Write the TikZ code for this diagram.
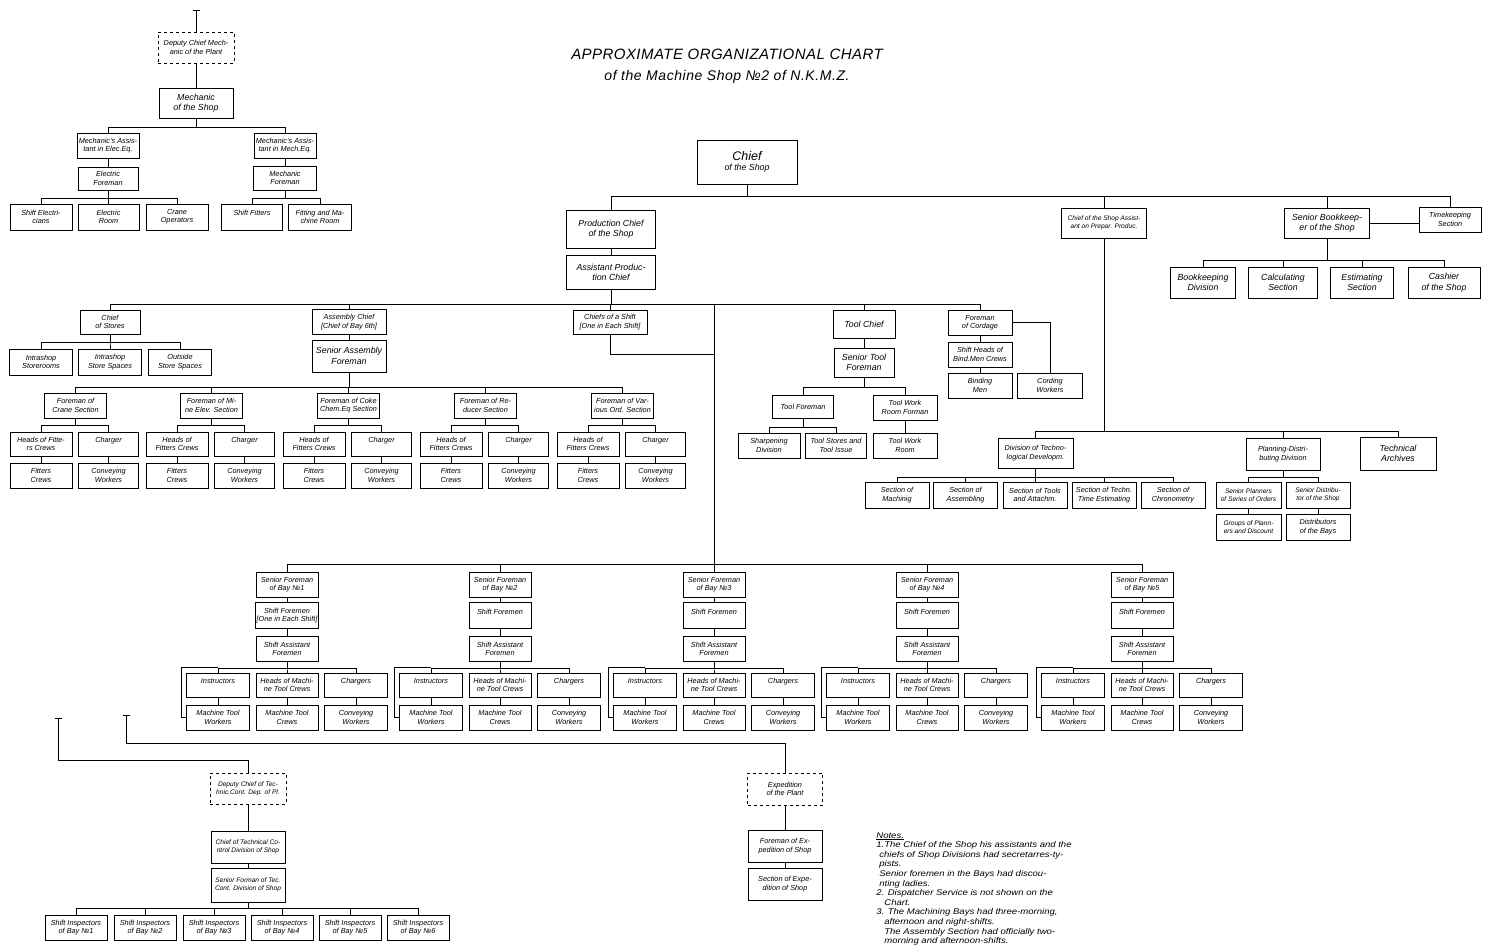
\documentclass[tikz,border=0pt]{standalone}
\usepackage{fontspec}
\setmainfont{Liberation Sans}
\usetikzlibrary{arrows.meta, positioning}

\tikzset{
  box/.style={draw, align=center, inner sep=1pt, font=\itshape\fontsize{7.3}{8.3}\selectfont, minimum width=62pt, minimum height=25pt},
  dbox/.style={box, dashed},
  sz/.style 2 args={minimum width=#1pt, minimum height=#2pt},
  midtxt/.style={font=\itshape\fontsize{8.8}{10.5}\selectfont},
  tinytxt/.style={font=\itshape\fontsize{6.6}{7.6}\selectfont},
  tbar/.style={{Bar[width=7pt]}-},
}

\begin{document}
\begin{tikzpicture}[x=1pt, y=-1pt, line width=0.7pt]
\useasboundingbox (0,0) rectangle (1494,951);

% title
\node (ttl) at (727,54) {\itshape\fontsize{15}{17}\selectfont\addfontfeature{LetterSpace=3}APPROXIMATE ORGANIZATIONAL CHART};
\node (sub) at (727,77) {\itshape\fontsize{14}{16}\selectfont\addfontfeature{LetterSpace=4}of the Machine Shop №2 of N.K.M.Z.};

% mechanic of the shop
\coordinate (tq0) at (196,10);
\node[dbox, sz={76}{31}] (dcm) at (196,47.5) {Deputy Chief Mech-\\anic of the Plant};
\node[box, midtxt, sz={74}{30}] (msh) at (196,103) {Mechanic\\of the Shop};
\node[box] (mae) at (108,145.5) {Mechanic's Assis-\\tant in Elec.Eq.};
\node[box] (mam) at (285,145.5) {Mechanic's Assis-\\tant in Mech.Eq.};
\node[box, sz={60}{23}] (efm) at (108,178.5) {Electric\\Foreman};
\node[box, sz={63}{24}] (mfm) at (285,178) {Mechanic\\Foreman};
\node[box, sz={62}{26}] (sel) at (41,217) {Shift Electri-\\cians};
\node[box, sz={61}{26}] (erm) at (108.5,217) {Electric\\Room};
\node[box, sz={62}{26}] (cop) at (177,217) {Crane\\Operators};
\node[box, sz={61}{26}] (sft) at (252,217) {Shift Fitters\\ };
\node[box, sz={63}{26}] (fmr) at (320,217) {Fitting and Ma-\\chine Room};
\draw[tbar] (tq0) -- (dcm);
\draw (dcm) -- (msh);
\foreach \k in {mae,mam} \draw (msh.south) -- ++(0,9) -| (\k.north);
\draw (mae) -- (efm);
\draw (mam) -- (mfm);
\foreach \k in {sel,erm,cop} \draw (efm.south) -- ++(0,8) -| (\k.north);
\foreach \k in {sft,fmr} \draw (mfm.south) -- ++(0,8) -| (\k.north);

% chief and first level
\node[box, sz={100}{44}, font=\itshape\fontsize{8.8}{10}\selectfont] (chief) at (747,162) {{\fontsize{12.5}{14}\selectfont Chief}\\of the Shop};
\node[box, midtxt, sz={89}{38}] (pch) at (611,229) {Production Chief\\of the Shop};
\node[box, midtxt, sz={89}{34}] (apc) at (611,272.5) {Assistant Produc-\\tion Chief};
\node[box, tinytxt, sz={85}{30}] (csa) at (1104,223) {Chief of the Shop Assist-\\ant on Prepar. Produc.};
\node[box, midtxt, sz={85}{30}] (sbk) at (1327,223) {Senior Bookkeep-\\er of the Shop};
\node[box] (tks) at (1450,219.5) {Timekeeping\\Section};
\node[box, midtxt, sz={65}{31}] (bkd) at (1203,282.5) {Bookkeeping\\Division};
\node[box, midtxt, sz={69}{31}] (cls) at (1283,282.5) {Calculating\\Section};
\node[box, midtxt, sz={63}{31}] (ess) at (1362,282.5) {Estimating\\Section};
\node[box, midtxt, sz={72}{31}] (cas) at (1444,282.5) {Cashier\\of the Shop};
\foreach \k in {pch,csa,sbk,tks} \draw (chief.south) -- ++(0,12) -| (\k.north);
\draw (pch) -- (apc);
\draw (sbk.east) -- (sbk.east -| tks.west);
\foreach \k in {bkd,cls,ess,cas} \draw (sbk.south) -- ++(0,22) -| (\k.north);

% production line
\coordinate (trk) at (714,564);
\coordinate (cshj) at (714,354);
\node[box, sz={60}{24}] (cst) at (110,322) {Chief\\of Stores};
\node[box, sz={74}{25}] (ach) at (349,322) {Assembly Chief\\{[Chief of Bay 6th]}};
\node[box, sz={74}{24}] (csh) at (610,322) {Chiefs of a Shift\\{[One in Each Shift]}};
\node[box, midtxt, sz={62}{28}] (tch) at (864,324) {Tool Chief};
\node[box, sz={64}{25}] (fco) at (980,322.5) {Foreman\\of Cordage};
\foreach \k in {cst,ach,csh,tch,fco} \draw (apc.south) -- ++(0,14) -| (\k.north);
\draw (apc.south) -- ++(0,14) -| (trk);
\draw (csh.south) |- (cshj);

% stores
\node[box, sz={63}{26}] (isr) at (41,362) {Intrashop\\Storerooms};
\node[box, sz={63}{26}] (iss) at (110,362) {Intrashop\\Store Spaces};
\node[box, sz={63}{26}] (oss) at (180,362) {Outside\\Store Spaces};
\foreach \k in {isr,iss,oss} \draw (cst.south) -- ++(0,8) -| (\k.north);

% assembly
\node[box, midtxt, sz={74}{32}] (sasf) at (349,356) {Senior Assembly\\Foreman};
\draw (ach) -- (sasf);
\foreach \n/\c/\t in {1/41/{Foreman of\\Crane Section}, 2/177/{Foreman of Mi-\\ne Elev. Section}, 3/314/{Foreman of Coke\\Chem.Eq Section}, 4/451/{Foreman of Re-\\ducer Section}, 5/588/{Foreman of Var-\\ious Ord. Section}}{
  \node[box] (fr\n) at (\c+34.5,405.5) {\t};
  \node[box, sz={62}{24}] (hfc\n) at (\c,444) {\ifnum\n=1 Heads of Fitte-\\rs Crews\else Heads of\\Fitters Crews\fi};
  \node[box, sz={60}{24}] (chr\n) at (\c+67.5,444) {Charger\\ };
  \node[box] (fcr\n) at (\c,475.5) {Fitters\\Crews};
  \node[box, sz={60}{25}] (cnw\n) at (\c+67.5,475.5) {Conveying\\Workers};
  \draw (sasf.south) -- ++(0,15) -| (fr\n.north);
  \foreach \k in {hfc,chr} \draw (fr\n.south) -- ++(0,7) -| (\k\n.north);
  \draw (hfc\n) -- (fcr\n);
  \draw (chr\n) -- (cnw\n);
}

% tools
\node[box, midtxt, sz={60}{29}] (stf) at (864,362.5) {Senior Tool\\Foreman};
\node[box, sz={61}{23}] (tfm) at (803,406.5) {Tool Foreman};
\node[box, sz={64}{25}] (twf) at (905,407.5) {Tool Work\\Room Forman};
\node[box] (shd) at (769,445.5) {Sharpening\\Division};
\node[box, sz={61}{25}] (tsi) at (836,445.5) {Tool Stores and\\Tool Issue};
\node[box, sz={64}{25}] (twr) at (905,445.5) {Tool Work\\Room};
\draw (tch) -- (stf);
\foreach \k in {tfm,twf} \draw (stf.south) -- ++(0,10) -| (\k.north);
\foreach \k in {shd,tsi} \draw (tfm.south) -- ++(0,9) -| (\k.north);
\draw (twf) -- (twr);

% cordage
\node[box, sz={64}{25}] (shb) at (980,354.5) {Shift Heads of\\Bind.Men Crews};
\node[box, sz={64}{25}] (bmn) at (980,385.5) {Binding\\Men};
\node[box, sz={65}{25}] (cwk) at (1050,385.5) {Cording\\Workers};
\draw (fco) -- (shb);
\draw (shb) -- (bmn);
\draw (fco.east) -| (cwk.north);

% preparation of production
\node[box, sz={75}{30}] (dtd) at (1035.5,453) {Division of Techno-\\logical Developm.};
\node[box, sz={74}{32}] (pdd) at (1283,454) {Planning-Distri-\\buting Division};
\node[box, midtxt, sz={76}{33}] (tar) at (1398,453.5) {Technical\\Archives};
\foreach \k in {dtd,pdd,tar} \draw (csa.south) -- ++(0,193) -| (\k.north);
\foreach \n/\c/\t in {smc/897/{Section of\\Machinig}, sas/965.5/{Section of\\Assembling}, sta/1035/{Section of Tools\\and Attachm.}, stt/1104/{Section of Techn.\\Time Estimating}, sch/1173/{Section of\\Chronometry}}{
  \node[box, sz={64}{26}] (\n) at (\c,495) {\t};
  \draw (dtd.south) -- ++(0,9) -| (\n.north);
}
\node[box, tinytxt, sz={65}{26}] (spo) at (1248.5,495) {Senior Planners\\of Series of Orders};
\node[box, tinytxt, sz={64}{26}] (sds) at (1318,495) {Senior Distribu-\\tor of the Shop};
\node[box, tinytxt, sz={65}{26}] (gpd) at (1248.5,527) {Groups of Plann-\\ers and Discount};
\node[box, sz={64}{26}] (dby) at (1318,527) {Distributors\\of the Bays};
\foreach \k in {spo,sds} \draw (pdd.south) -- ++(0,7) -| (\k.north);
\draw (spo) -- (gpd);
\draw (sds) -- (dby);

% bays
\foreach \n/\c in {1/287,2/500,3/714,4/927,5/1142}{
  \node[box] (sfb\n) at (\c,584.5) {Senior Foreman\\of Bay №\n};
  \node[box, sz={62}{26}] (sfm\n) [below=5pt of sfb\n] {Shift Foremen\\\ifnum\n=1 {[One in Each Shift]}\fi};
  \node[box] (saf\n) [below=7pt of sfm\n] {Shift Assistant\\Foremen};
  \node[box, sz={63}{24}] (itr\n) at (\c-69,685) {Instructors\\ };
  \node[box, sz={62}{24}] (hmc\n) at (\c,685) {Heads of Machi-\\ne Tool Crews};
  \node[box, sz={63}{24}] (chg\n) at (\c+69,685) {Chargers\\ };
  \node[box, sz={63}{25}] (mtw\n) at (\c-69,717.5) {Machine Tool\\Workers};
  \node[box] (mtc\n) at (\c,717.5) {Machine Tool\\Crews};
  \node[box, sz={63}{25}] (cvw\n) at (\c+69,717.5) {Conveying\\Workers};
  \coordinate (brk\n) at (\c-106,667);
  \draw (trk) -| (sfb\n.north);
  \draw (sfb\n) -- (sfm\n);
  \draw (sfm\n) -- (saf\n);
  \foreach \k in {itr,hmc,chg} \draw (saf\n.south) -- ++(0,7) -| (\k\n.north);
  \draw (brk\n) -- (itr\n.north |- brk\n);
  \draw (brk\n) |- (mtw\n.west);
  \draw (itr\n) -- (mtw\n);
  \draw (hmc\n) -- (mtc\n);
  \draw (chg\n) -- (cvw\n);
}

% technical control
\coordinate (tq1) at (58,718);
\node[dbox, tinytxt, sz={76}{31}] (dct) at (248,788.5) {Deputy Chief of Tec-\\hnic.Cont. Dep. of Pl.};
\node[box, tinytxt, sz={74}{32}] (ctc) at (248,847) {Chief of Technical Co-\\ntrol Division of Shop};
\node[box, tinytxt, sz={74}{34}] (sfc) at (248,885) {Senior Forman of Tec.\\Cont. Division of Shop};
\draw[tbar] (tq1) -- ++(0,42) -| (dct.north);
\draw (dct) -- (ctc);
\draw (ctc) -- (sfc);
\foreach \n/\c in {1/76,2/145,3/214,4/282,5/350,6/418}{
  \node[box] (spi\n) at (\c,927.5) {Shift Inspectors\\of Bay №\n};
  \draw (sfc.south) -- ++(0,6) -| (spi\n.north);
}

% expedition
\coordinate (tq2) at (126,715);
\node[dbox, sz={75}{32}] (exp) at (785,789) {Expedition\\of the Plant};
\node[box, sz={74}{32}] (fex) at (785,846) {Foreman of Ex-\\pedition of Shop};
\node[box, sz={74}{32}] (sex) at (785,884) {Section of Expe-\\dition of Shop};
\draw[tbar] (tq2) -- ++(0,28) -| (exp.north);
\draw (exp) -- (fex);
\draw (fex) -- (sex);

% notes
\node[anchor=north west, align=left, inner sep=0pt, font=\itshape\fontsize{8.3}{9.6}\selectfont\addfontfeature{FakeStretch=1.15}] (nts) at (876,832) {\underline{Notes.}\\
1.The Chief of the Shop his assistants and the\\
\hspace*{3pt}chiefs of Shop Divisions had secretarres-ty-\\
\hspace*{3pt}pists.\\
\hspace*{3pt}Senior foremen in the Bays had discou-\\
\hspace*{3pt}nting ladies.\\
2. Dispatcher Service is not shown on the\\
\hspace*{8pt}Chart.\\
3. The Machining Bays had three-morning,\\
\hspace*{8pt}afternoon and night-shifts.\\
\hspace*{8pt}The Assembly Section had officially two-\\
\hspace*{8pt}morning and afternoon-shifts.};
\end{tikzpicture}
\end{document}
